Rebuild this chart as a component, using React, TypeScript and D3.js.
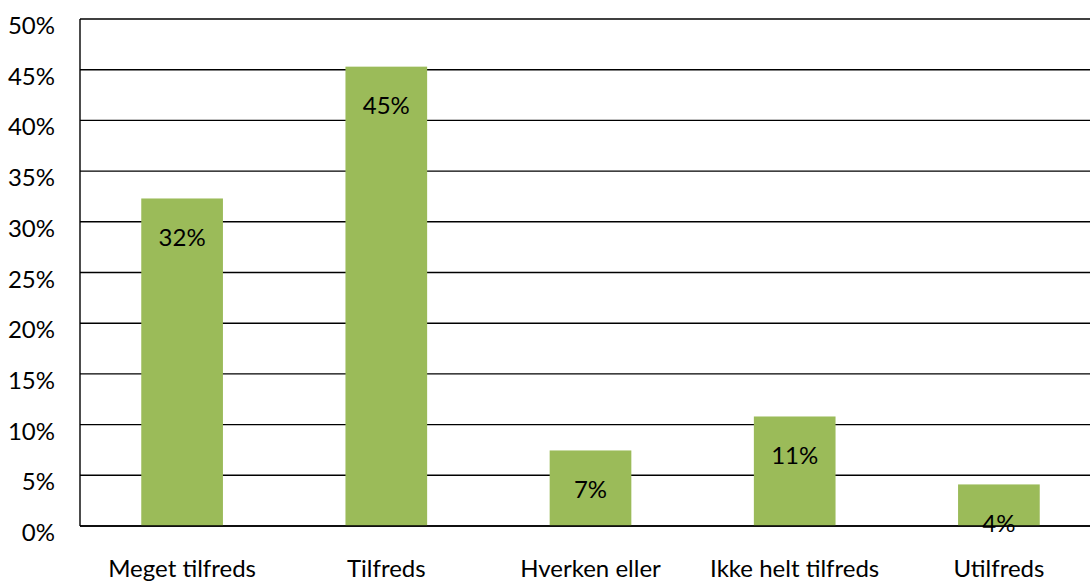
import React, { useEffect, useRef } from 'react';
import * as d3 from 'd3';

const categories = ['Meget tilfreds', 'Tilfreds', 'Hverken eller', 'Ikke helt tilfreds', 'Utilfreds'];
const values = [32.3, 45.3, 7.45, 10.8, 4.1];
const valueLabels = ['32%', '45%', '7%', '11%', '4%'];
const yTicks = [0, 5, 10, 15, 20, 25, 30, 35, 40, 45, 50];

export default function App() {
  const ref = useRef<SVGSVGElement>(null);

  useEffect(() => {
    document.body.style.margin = '0';
    const svg = d3.select(ref.current);
    svg.selectAll('*').remove();

    const width = 1090;
    const height = 581;
    const margin = { top: 19, left: 80, bottom: 55 };
    const font = 'Lato, "Open Sans", sans-serif';
    const fontSize = '24px';

    const y = d3.scaleLinear().domain([0, 50]).range([height - margin.bottom, margin.top]);
    const x = d3
      .scaleBand()
      .domain(categories)
      .range([margin.left, 1101])
      .paddingInner(0.6)
      .paddingOuter(0.3);

    // gridlines
    svg.append('g')
      .selectAll('line')
      .data(yTicks)
      .enter()
      .append('line')
      .attr('x1', margin.left)
      .attr('x2', width)
      .attr('y1', (d) => y(d))
      .attr('y2', (d) => y(d))
      .attr('stroke', '#000')
      .attr('stroke-width', 1.4);

    // y-axis line
    svg.append('line')
      .attr('x1', margin.left)
      .attr('x2', margin.left)
      .attr('y1', y(50))
      .attr('y2', y(0))
      .attr('stroke', '#000')
      .attr('stroke-width', 1.4);

    // tick labels
    svg.append('g')
      .selectAll('text')
      .data(yTicks)
      .enter()
      .append('text')
      .attr('x', 55)
      .attr('y', (d) => y(d) + 5.5)
      .attr('text-anchor', 'end')
      .attr('dominant-baseline', 'central')
      .style('font-family', font)
      .style('font-size', fontSize)
      .attr('fill', '#000')
      .text((d) => `${d}%`);

    // bars
    svg.append('g')
      .selectAll('rect')
      .data(values)
      .enter()
      .append('rect')
      .attr('x', (d, i) => x(categories[i]))
      .attr('y', (d) => y(d))
      .attr('width', x.bandwidth())
      .attr('height', (d) => y(0) - y(d))
      .attr('fill', '#9BBB59');

    // bottom baseline over bars
    svg.append('line')
      .attr('x1', margin.left)
      .attr('x2', width)
      .attr('y1', y(0))
      .attr('y2', y(0))
      .attr('stroke', '#000')
      .attr('stroke-width', 1.6);

    // value labels
    svg.append('g')
      .selectAll('text')
      .data(values)
      .enter()
      .append('text')
      .attr('x', (d, i) => x(categories[i]) + x.bandwidth() / 2)
      .attr('y', (d) => y(d) + 38)
      .attr('text-anchor', 'middle')
      .attr('dominant-baseline', 'central')
      .style('font-family', font)
      .style('font-size', fontSize)
      .attr('fill', '#000')
      .text((d, i) => valueLabels[i]);

    // category labels
    svg.append('g')
      .selectAll('text')
      .data(categories)
      .enter()
      .append('text')
      .attr('x', (d) => x(d) + x.bandwidth() / 2)
      .attr('y', 567)
      .attr('text-anchor', 'middle')
      .attr('dominant-baseline', 'central')
      .style('font-family', font)
      .style('font-size', fontSize)
      .attr('fill', '#000')
      .text((d) => d);
  }, []);

  return <svg ref={ref} width={1090} height={581} style={{ display: 'block', background: '#fff' }} />;
}
